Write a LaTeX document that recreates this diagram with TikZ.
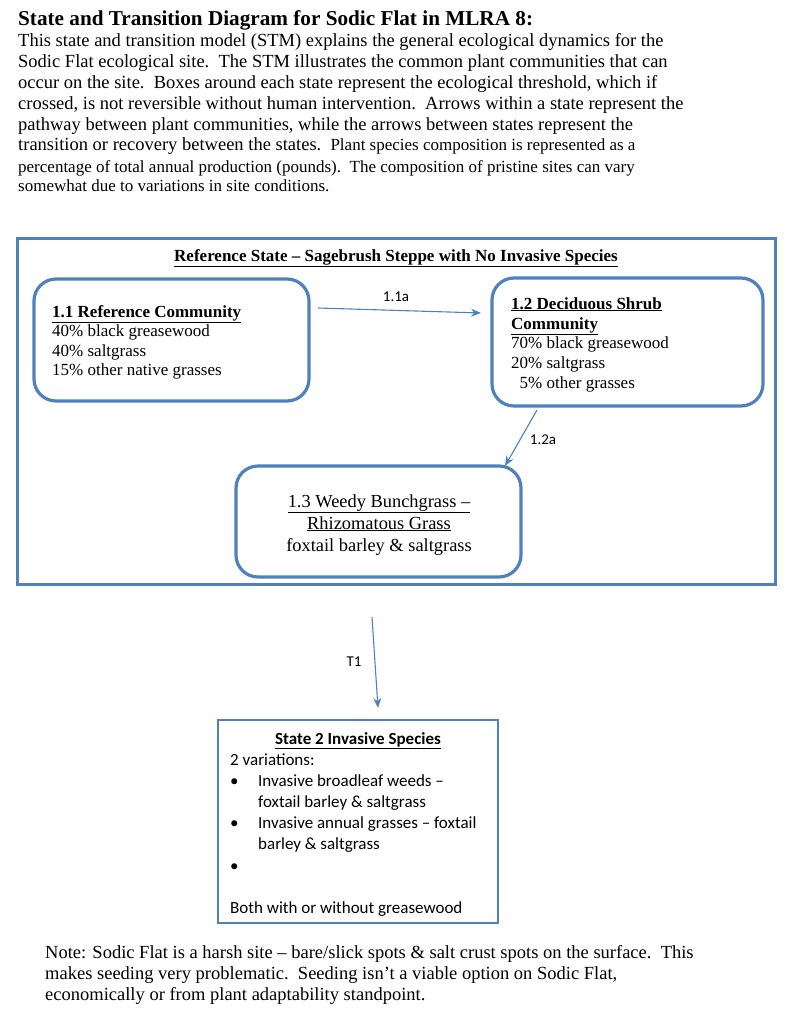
\documentclass[tikz,border=0pt]{standalone}
\usepackage{fontspec}
\setmainfont{Liberation Serif}
\newfontfamily\calibrifont{Carlito}
\usetikzlibrary{arrows.meta}
\definecolor{boxblue}{RGB}{79,129,189}
\definecolor{arrblue}{RGB}{79,129,189}
\begin{document}
\begin{tikzpicture}[x=1pt,y=-1pt,
  txt/.style={anchor=base west, inner sep=0pt, font=\fontsize{18.5}{21}\selectfont},
  small/.style={anchor=base west, inner sep=0pt, font=\fontsize{17}{20}\selectfont},
  boxtxt/.style={anchor=base west, inner sep=0pt, font=\fontsize{17}{20}\selectfont},
  ctrtxt/.style={anchor=base, inner sep=0pt, font=\fontsize{18.4}{21}\selectfont},
  caltxt/.style={anchor=base west, inner sep=0pt, font=\calibrifont\fontsize{17}{20}\selectfont},
  lbl/.style={inner sep=0pt, font=\calibrifont\fontsize{15}{18}\selectfont},
  statebox/.style={draw=boxblue, line width=3pt},
  commbox/.style={draw=boxblue, line width=3.2pt, rounded corners=22pt},
  arr/.style={draw=arrblue, line width=1.1pt, -{Stealth[length=10pt,width=8pt]}}]
\useasboundingbox (0,0) rectangle (800,1012);
% title and intro
\node[anchor=base west, inner sep=0pt, font=\fontsize{21.2}{24}\selectfont\bfseries] (title) at (18,25) {State and Transition Diagram for Sodic Flat in MLRA 8:};
\node[txt] (p1) at (18,46) {This state and transition model (STM) explains the general ecological dynamics for the};
\node[txt] (p2) at (18,67) {Sodic Flat ecological site.\hspace{0.5em}The STM illustrates the common plant communities that can};
\node[txt] (p3) at (18,88) {occur on the site.\hspace{0.5em}Boxes around each state represent the ecological threshold, which if};
\node[txt] (p4) at (18,109) {crossed, is not reversible without human intervention.\hspace{0.5em}Arrows within a state represent the};
\node[txt] (p5) at (18,130) {pathway between plant communities, while the arrows between states represent the};
\node[txt] (p6) at (18,150) {transition or recovery between the states.\hspace{0.5em}{\fontsize{17}{20}\selectfont Plant species composition is represented as a}};
\node[small] (p7) at (18,172) {percentage of total annual production (pounds).\hspace{0.5em}The composition of pristine sites can vary};
\node[small] (p8) at (18,191) {somewhat due to variations in site conditions.};
% reference state
\node[statebox, minimum width=758pt, minimum height=346pt, inner sep=0pt] (ref) at (396,411) {};
\node[anchor=base, inner sep=0pt, font=\fontsize{17}{20}\selectfont\bfseries] (refhead) at (396,261) {\underline{Reference State – Sagebrush Steppe with No Invasive Species}};
\node[commbox, minimum width=275pt, minimum height=122pt, inner sep=0pt] (c11) at (171.5,340) {};
\node[boxtxt] (c11a) at (52,317) {\textbf{\underline{1.1 Reference Community}}};
\node[boxtxt] (c11b) at (52,336) {40\% black greasewood};
\node[boxtxt] (c11c) at (52,356) {40\% saltgrass};
\node[boxtxt] (c11d) at (52,375) {15\% other native grasses};
\node[commbox, minimum width=271pt, minimum height=128pt, inner sep=0pt] (c12) at (627.5,342) {};
\node[boxtxt] (c12a) at (511,309) {\textbf{\underline{1.2 Deciduous Shrub}}};
\node[boxtxt] (c12b) at (511,329) {\textbf{\underline{Community}}};
\node[boxtxt] (c12c) at (511,348) {70\% black greasewood};
\node[boxtxt] (c12d) at (511,368) {20\% saltgrass};
\node[boxtxt] (c12e) at (511,388) {\hspace{0.5em}5\% other grasses};
\node[commbox, minimum width=285pt, minimum height=111pt, inner sep=0pt] (c13) at (378.5,521.5) {};
\node[ctrtxt] (c13a) at (379,507) {\underline{1.3 Weedy Bunchgrass –}};
\node[ctrtxt] (c13b) at (379,529) {\underline{Rhizomatous Grass}};
\node[ctrtxt] (c13c) at (379,551) {foxtail barley \& saltgrass};
% arrows within state
\coordinate (a1s) at (318,308);
\coordinate (a1e) at (481,313);
\draw[arr] (a1s) -- (a1e);
\node[lbl] (l11a) at (396,297) {1.1a};
\coordinate (a2s) at (537,410);
\coordinate (a2e) at (505,466);
\draw[arr] (a2s) -- (a2e);
\node[lbl] (l12a) at (543,440) {1.2a};
% transition
\coordinate (t1s) at (372,617);
\coordinate (t1e) at (378,708);
\draw[arr] (t1s) -- (t1e);
\node[lbl] (lt1) at (354,662) {T1};
% state 2
\node[draw=boxblue, line width=2.8pt, minimum width=280pt, minimum height=203pt, inner sep=0pt] (s2) at (358,821.5) {};
\node[anchor=base, inner sep=0pt, font=\calibrifont\fontsize{17}{20}\selectfont\bfseries] (s2h) at (358,744) {\underline{State 2 Invasive Species}};
\node[caltxt] (s2a) at (230,765) {2 variations:};
\node[caltxt] (b1) at (230,786) {\textbullet};
\node[caltxt] (s2b) at (258,786) {Invasive broadleaf weeds –};
\node[caltxt] (s2c) at (258,807) {foxtail barley \& saltgrass};
\node[caltxt] (b2) at (230,828) {\textbullet};
\node[caltxt] (s2d) at (258,828) {Invasive annual grasses – foxtail};
\node[caltxt] (s2e) at (258,849) {barley \& saltgrass};
\node[caltxt] (b3) at (230,871) {\textbullet};
\node[caltxt] (s2f) at (230,913) {Both with or without greasewood};
% note
\node[txt] (n1) at (45,958) {Note: Sodic Flat is a harsh site – bare/slick spots \& salt crust spots on the surface.\hspace{0.5em}This};
\node[txt] (n2) at (45,979) {makes seeding very problematic.\hspace{0.5em}Seeding isn’t a viable option on Sodic Flat,};
\node[txt] (n3) at (45,1000) {economically or from plant adaptability standpoint.};
\end{tikzpicture}
\end{document}
